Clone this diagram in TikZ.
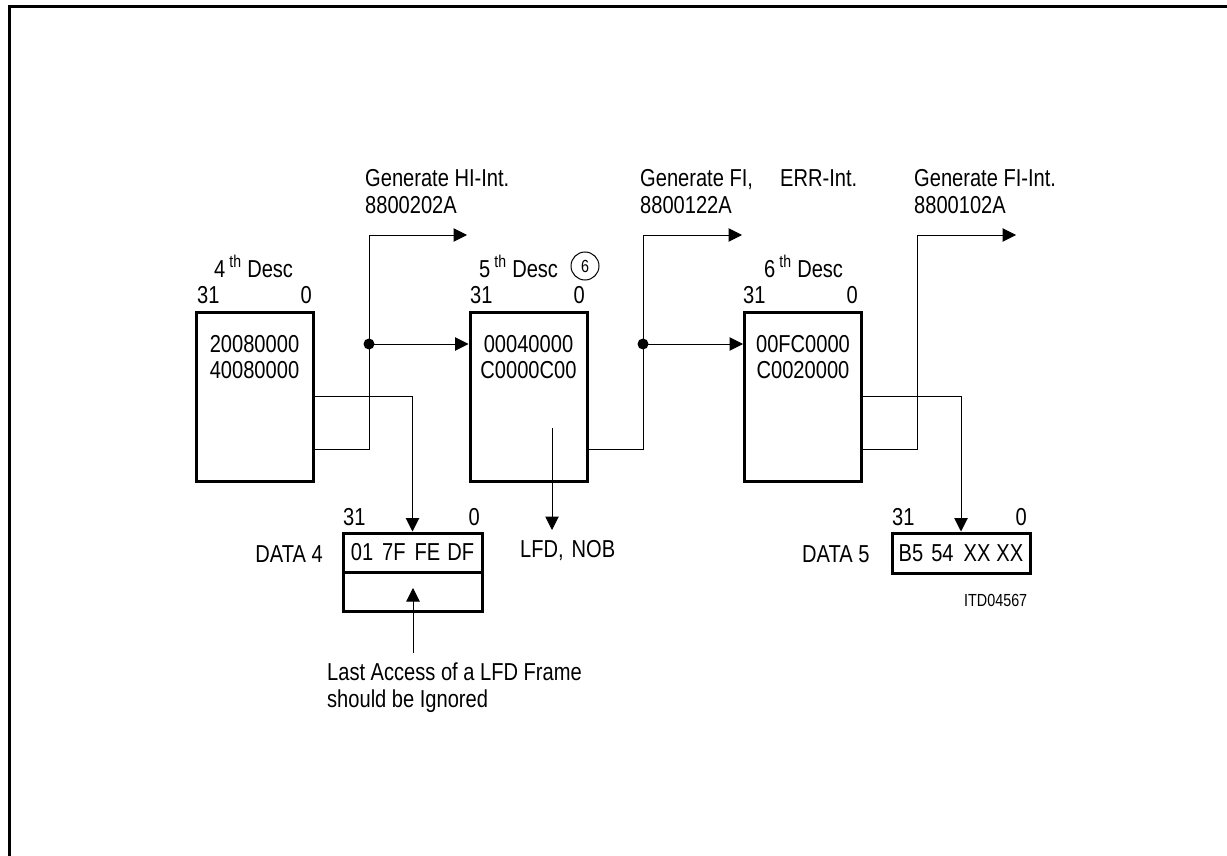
\documentclass[tikz,border=0pt]{standalone}
\usepackage{fontspec}
\setmainfont{Liberation Sans}[FakeStretch=0.82]
\usetikzlibrary{arrows.meta}
\begin{document}
\begin{tikzpicture}[x=1pt,y=-1pt,
  every node/.style={font=\fontsize{24.5}{26}\selectfont, inner sep=0pt},
  desc/.style={draw, line width=3pt, minimum width=117pt, minimum height=169pt},
  databox/.style={draw, line width=3pt, minimum width=139pt, minimum height=39pt},
  conn/.style={line width=1pt},
  arr/.style={conn, -{Triangle[length=13.5pt,width=13.5pt]}},
  dot/.style={circle, fill, minimum size=11pt, inner sep=0pt},
  small/.style={font=\fontsize{17.5}{19}\selectfont},
  lbl/.style={anchor=base west},
]
\useasboundingbox (0,0) rectangle (1227,856);
% frame
\draw[line width=3pt] (9,856) -- (9,7) -- (1227,7);

% descriptor boxes
\node[desc] (b1) at (254.5,396.5) {};
\node[desc] (b2) at (528.5,396.5) {};
\node[desc] (b3) at (803,396.5) {};

% box contents
\node[anchor=base] (b1l1) at (254.5,352) {20080000};
\node[anchor=base] (b1l2) at (254.5,378) {40080000};
\node[anchor=base] (b2l1) at (528.5,352) {00040000};
\node[anchor=base] (b2l2) at (528.5,378) {C0000C00};
\node[anchor=base] (b3l1) at (803,352) {00FC0000};
\node[anchor=base] (b3l2) at (803,378) {C0020000};

% titles
\node[lbl] (h1) at (214,277) {4\,\textsuperscript{th} Desc};
\node[lbl] (h2) at (479,277) {5\,\textsuperscript{th} Desc};
\node[lbl] (h3) at (764,277) {6\,\textsuperscript{th} Desc};
\node[circle, draw, line width=1pt, minimum size=28pt, small] (c6) at (585,266) {6};

% bit numbers
\node[lbl] (b1m) at (197,303) {31};
\node[anchor=base east] (b1n) at (312,303) {0};
\node[lbl] (b2m) at (470,303) {31};
\node[anchor=base east] (b2n) at (585,303) {0};
\node[lbl] (b3m) at (743,303) {31};
\node[anchor=base east] (b3n) at (858,303) {0};

% interrupt labels
\node[lbl] (g1a) at (365,186) {Generate HI-Int.};
\node[lbl] (g1b) at (365,214) {8800202A};
\node[lbl] (g2a) at (640,186) {Generate FI,};
\node[lbl] (g2c) at (780,186) {ERR-Int.};
\node[lbl] (g2b) at (640,214) {8800122A};
\node[lbl] (g3a) at (914,186) {Generate FI-Int.};
\node[lbl] (g3b) at (914,214) {8800102A};

% data boxes
\node[databox] (d4a) at (412.5,552.5) {01\hspace{9pt}7F\hspace{9pt}FE\hspace{7pt}DF};
\node[databox] (d4b) at (412.5,591.5) {};
\node[databox, minimum width=138pt, minimum height=40pt] (d5) at (961,553) {B5\hspace{8pt}54\hspace{10pt}XX\hspace{6pt}XX};
\node[lbl] (d4m) at (343,525) {31};
\node[anchor=base east] (d4n) at (480,525) {0};
\node[lbl] (d5m) at (892,525) {31};
\node[anchor=base east] (d5n) at (1027,525) {0};
\node[anchor=base east] (d4t) at (323,562) {DATA 4};
\node[lbl] (d5t) at (802,562) {DATA 5};

\node[lbl] (lfd) at (520,557) {LFD,\hspace{8pt}NOB};
\node[lbl] (note1) at (327,680) {Last Access of a LFD Frame};
\node[lbl] (note2) at (327,707) {should be Ignored};
\node[lbl, small] (itd) at (964,606) {ITD04567};

% junction dots
\node[dot] (j1) at (369,344) {};
\node[dot] (j2) at (643,344) {};

% coordinates
\coordinate (u1) at (369,235);
\coordinate (t1) at (467,235);
\coordinate (u2) at (643,235);
\coordinate (t2) at (742,235);
\coordinate (u3) at (917,235);
\coordinate (t3) at (1016,235);
\coordinate (l0) at (552,428);
\coordinate (l1) at (552,530);
\coordinate (a0) at (413,653);
\coordinate (a1) at (413,588);

% connectors
\draw[arr] ([yshift=-52.5pt]b1.east) -| (u1) -- (t1);
\draw[arr] (j1.center) -- (b2.west |- j1.center);
\draw[arr] (b1.east) -| (d4a.north);
\draw[arr] (l0) -- (l1);
\draw[arr] ([yshift=-52.5pt]b2.east) -| (u2) -- (t2);
\draw[arr] (j2.center) -- (b3.west |- j2.center);
\draw[arr] (b3.east) -| (d5.north);
\draw[arr] ([yshift=-52.5pt]b3.east) -| (u3) -- (t3);
\draw[arr] (a0) -- (a1);
\end{tikzpicture}
\end{document}
